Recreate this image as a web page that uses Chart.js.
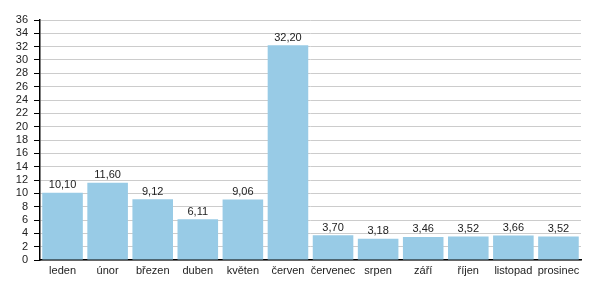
<!DOCTYPE html>
<html>
<head>
<meta charset="utf-8">
<script src="https://cdn.jsdelivr.net/npm/chart.js@4/dist/chart.umd.min.js"></script>
<style>
  html, body { margin: 0; padding: 0; background: #fff; }
  #wrap { width: 600px; height: 300px; }
</style>
</head>
<body>
<div id="wrap"><canvas id="monthsChart"></canvas></div>
<script>
// data
var months = ['leden', 'únor', 'březen', 'duben', 'květen', 'červen', 'červenec', 'srpen', 'září', 'říjen', 'listopad', 'prosinec'];
var values = [10.10, 11.60, 9.12, 6.11, 9.06, 32.20, 3.70, 3.18, 3.46, 3.52, 3.66, 3.52];
var yMax = 36;
var yStep = 2;

var fontFamily = '"Liberation Sans", Arial, Helvetica, sans-serif';

// draw the value above each bar, czech decimal comma
var valueLabels = {
    id: 'valueLabels',
    afterDatasetsDraw: function(chart) {
        var ctx = chart.ctx;
        var meta = chart.getDatasetMeta(0);
        ctx.save();
        ctx.font = '11px ' + fontFamily;
        ctx.fillStyle = '#222';
        ctx.textAlign = 'center';
        ctx.textBaseline = 'bottom';
        meta.data.forEach(function(bar, i) {
            var txt = values[i].toFixed(2).replace('.', ',');
            ctx.fillText(txt, bar.x, bar.y - 2);
        });
        ctx.restore();
    }
};

var chart = new Chart(document.getElementById('monthsChart'), {
    type: 'bar',
    data: {
        labels: months,
        datasets: [{
            data: values,
            backgroundColor: '#98cbe6',
            borderWidth: 0,
            barPercentage: 0.9,
            categoryPercentage: 1.0
        }]
    },
    options: {
        responsive: true,
        maintainAspectRatio: false,
        animation: false,
        layout: {
            padding: { top: 20, right: 19, left: 0, bottom: 0 }
        },
        plugins: {
            legend: { display: false },
            tooltip: { enabled: false }
        },
        scales: {
            x: {
                grid: { display: false, drawTicks: false },
                border: { display: true, color: '#000', width: 1.5 },
                ticks: {
                    color: '#222',
                    font: { family: fontFamily, size: 11 },
                    padding: 4,
                    maxRotation: 0,
                    autoSkip: false
                },
                afterFit: function(scale) { scale.height = 40; }
            },
            y: {
                min: 0,
                max: yMax,
                grid: {
                    color: '#cccccc',
                    tickColor: '#000',
                    tickLength: 6,
                    drawTicks: true
                },
                border: { display: true, color: '#000', width: 1.5 },
                ticks: {
                    stepSize: yStep,
                    autoSkip: false,
                    color: '#222',
                    font: { family: fontFamily, size: 11 },
                    padding: 6
                },
                afterFit: function(scale) { scale.width = 40; }
            }
        }
    },
    plugins: [valueLabels]
});
</script>
</body>
</html>
